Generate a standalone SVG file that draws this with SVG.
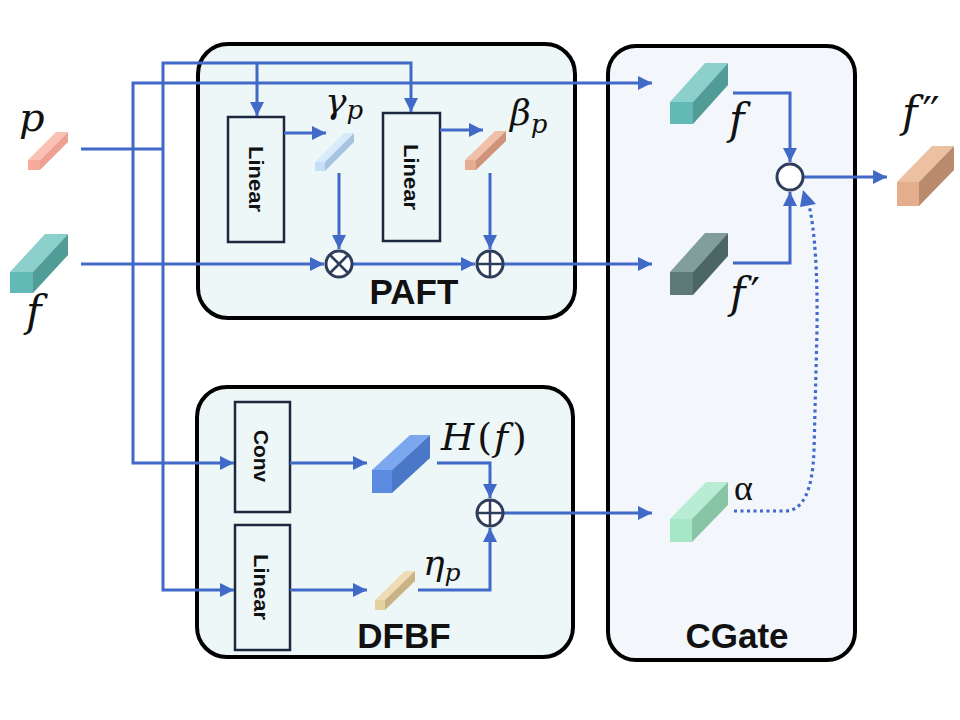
<svg xmlns="http://www.w3.org/2000/svg" width="960" height="720" viewBox="0 0 960 720">
<defs>
<style>
.frame{stroke:#000;stroke-width:4}
.blk{fill:none;stroke:#1c2740;stroke-width:2.5}
.conn{fill:none;stroke:#4169c8;stroke-width:3}
.dot{fill:none;stroke:#4169c8;stroke-width:3.2;stroke-dasharray:3 3.5}
.op{fill:#fff;stroke:#2e3d5c;stroke-width:3}
.opl{stroke:#2e3d5c;stroke-width:2.5}
.btxt{font-family:"Liberation Sans",Arial,sans-serif;font-weight:bold;fill:#111}
.math{font-family:"DejaVu Serif","Liberation Serif",serif;font-style:italic;fill:#111}
.up{font-style:normal}
</style>
<marker id="ah" viewBox="0 0 14 14" refX="14" refY="7" markerWidth="14" markerHeight="14" markerUnits="userSpaceOnUse" orient="auto">
<path d="M0,0 L14,7 L0,14 Z" fill="#4169c8"/>
</marker>
</defs>
<rect width="960" height="720" fill="#fff"/>

<g id="PAFT">
<rect class="frame" x="198" y="44" width="377" height="274" rx="30" fill="#eef7f8"/>
<text class="btxt" x="414" y="304" font-size="35" text-anchor="middle">PAFT</text>
</g>
<g id="DFBF">
<rect class="frame" x="197" y="387" width="376" height="270" rx="30" fill="#eef7f8"/>
<text class="btxt" x="404" y="648" font-size="35" text-anchor="middle">DFBF</text>
</g>
<g id="CGate">
<rect class="frame" x="608" y="46" width="247" height="614" rx="28" fill="#f3f7fc"/>
<text class="btxt" x="737" y="648" font-size="35" text-anchor="middle">CGate</text>
</g>

<g id="linear1">
<rect class="blk" x="228" y="117" width="56" height="125"/>
<text class="btxt" font-size="20" transform="translate(256,179) rotate(90)" text-anchor="middle" dominant-baseline="central" textLength="66" lengthAdjust="spacingAndGlyphs">Linear</text>
</g>
<g id="linear2">
<rect class="blk" x="383" y="113" width="57" height="128"/>
<text class="btxt" font-size="20" transform="translate(411,177) rotate(90)" text-anchor="middle" dominant-baseline="central" textLength="66" lengthAdjust="spacingAndGlyphs">Linear</text>
</g>
<g id="conv">
<rect class="blk" x="235" y="402" width="55" height="110"/>
<text class="btxt" font-size="20" transform="translate(261,456) rotate(90)" text-anchor="middle" dominant-baseline="central" textLength="52" lengthAdjust="spacingAndGlyphs">Conv</text>
</g>
<g id="linear3">
<rect class="blk" x="235" y="525" width="55" height="125"/>
<text class="btxt" font-size="20" transform="translate(261,587) rotate(90)" text-anchor="middle" dominant-baseline="central" textLength="66" lengthAdjust="spacingAndGlyphs">Linear</text>
</g>

<g id="connectors">
<path class="conn" d="M81 149 H163"/>
<path class="conn" d="M81 264 H324" marker-end="url(#ah)"/>
<path class="conn" d="M163 149 V63 H411 V112" marker-end="url(#ah)"/>
<path class="conn" d="M257 63 V116" marker-end="url(#ah)"/>
<path class="conn" d="M163 149 V590 H234" marker-end="url(#ah)"/>
<path class="conn" d="M133 264 V83 H652" marker-end="url(#ah)"/>
<path class="conn" d="M133 264 V463 H234" marker-end="url(#ah)"/>
<path class="conn" d="M284 133 H326" marker-end="url(#ah)"/>
<path class="conn" d="M339 173 V249" marker-end="url(#ah)"/>
<path class="conn" d="M353 264 H475" marker-end="url(#ah)"/>
<path class="conn" d="M440 130 H483" marker-end="url(#ah)"/>
<path class="conn" d="M490 173 V249" marker-end="url(#ah)"/>
<path class="conn" d="M504 264 H652" marker-end="url(#ah)"/>
<path class="conn" d="M733 93 H790 V162" marker-end="url(#ah)"/>
<path class="conn" d="M733 263 H790 V192" marker-end="url(#ah)"/>
<path class="conn" d="M803 177 H887" marker-end="url(#ah)"/>
<path class="conn" d="M290 463 H367" marker-end="url(#ah)"/>
<path class="conn" d="M290 590 H367" marker-end="url(#ah)"/>
<path class="conn" d="M437 463 H490 V498" marker-end="url(#ah)"/>
<path class="conn" d="M418 590 H490 V528" marker-end="url(#ah)"/>
<path class="conn" d="M504 513 H652" marker-end="url(#ah)"/>
<path class="dot" d="M734 511 H785 Q812 511 814 450 L817 330 Q818 245 809 205"/>
<path d="M803 190 L816 204 L800 207 Z" fill="#4169c8"/>
</g>

<g id="op-mul">
<circle class="op" cx="339" cy="264" r="13"/>
<path class="opl" d="M330 255 L348 273 M348 255 L330 273"/>
</g>
<g id="op-add1">
<circle class="op" cx="490" cy="264" r="13"/>
<path class="opl" d="M477 264 H503 M490 251 V277"/>
</g>
<g id="op-add2">
<circle class="op" cx="490" cy="513" r="13"/>
<path class="opl" d="M477 513 H503 M490 500 V526"/>
</g>
<g id="op-gate">
<circle class="op" cx="790" cy="177" r="13"/>
</g>

<g id="cube-p">
<path d="M28 160 L56 132 L68 132 L40 160 Z" fill="#fbc0b4"/>
<path d="M40 160 L68 132 L68 142 L40 170 Z" fill="#eea193"/>
<rect x="28" y="160" width="12" height="10" fill="#f7ab9e"/>
<text class="math" x="19" y="131" font-size="40">p</text>
</g>
<g id="cube-f-in">
<path d="M10 272 L45 234 L68 234 L33 272 Z" fill="#8bd0cb"/>
<path d="M33 272 L68 234 L68 255 L33 293 Z" fill="#529c97"/>
<rect x="10" y="272" width="23" height="21" fill="#63b9b5"/>
<text class="math" x="26" y="326" font-size="42">f</text>
</g>
<g id="cube-gamma">
<path d="M315 162 L344 133 L354 133 L325 162 Z" fill="#d8ebfb"/>
<path d="M325 162 L354 133 L354 142 L325 171 Z" fill="#a6c3e2"/>
<rect x="315" y="162" width="10" height="9" fill="#c4dff7"/>
<text class="math" x="325" y="113" font-size="36">γ<tspan font-size="26" dy="6">p</tspan></text>
</g>
<g id="cube-beta">
<path d="M465 160 L495 131 L506 131 L476 160 Z" fill="#f0c0a8"/>
<path d="M476 160 L506 131 L506 141 L476 170 Z" fill="#cf937a"/>
<rect x="465" y="160" width="11" height="10" fill="#e6ac92"/>
<text class="math" x="510" y="125" font-size="36">β<tspan font-size="26" dy="8">p</tspan></text>
</g>
<g id="cube-f">
<path d="M670 102 L705 63 L728 63 L693 102 Z" fill="#8bd0cb"/>
<path d="M693 102 L728 63 L728 85 L693 124 Z" fill="#529c97"/>
<rect x="670" y="102" width="23" height="22" fill="#63b9b5"/>
<text class="math" x="729" y="134" font-size="42">f</text>
</g>
<g id="cube-fp">
<path d="M670 272 L705 233 L728 233 L693 272 Z" fill="#819e9c"/>
<path d="M693 272 L728 233 L728 256 L693 295 Z" fill="#4b6664"/>
<rect x="670" y="272" width="23" height="23" fill="#5d7a78"/>
<text class="math" x="730" y="308" font-size="42">f<tspan class="up" dx="5">′</tspan></text>
</g>
<g id="cube-fpp">
<path d="M897 182 L932 146 L954 146 L919 182 Z" fill="#ecc0a2"/>
<path d="M919 182 L954 146 L954 170 L919 206 Z" fill="#b98a6c"/>
<rect x="897" y="182" width="22" height="24" fill="#e4ae8c"/>
<text class="math" x="902" y="127" font-size="42">f<tspan class="up" dx="5" letter-spacing="-2">′′</tspan></text>
</g>
<g id="cube-H">
<path d="M372 470 L410 435 L430 435 L392 470 Z" fill="#7ca6ee"/>
<path d="M392 470 L430 435 L430 458 L392 493 Z" fill="#4b77c9"/>
<rect x="372" y="470" width="20" height="23" fill="#5b8ce2"/>
<text class="math" x="441" y="450" font-size="38">H<tspan class="up" dx="3">(</tspan><tspan dx="2">f</tspan><tspan class="up" dx="4">)</tspan></text>
</g>
<g id="cube-eta">
<path d="M375 600 L405 571 L415 571 L385 600 Z" fill="#efdcb4"/>
<path d="M385 600 L415 571 L415 581 L385 610 Z" fill="#c9b386"/>
<rect x="375" y="600" width="10" height="10" fill="#e6d1a1"/>
<text class="math" x="423" y="575" font-size="36">η<tspan font-size="25" dy="6">p</tspan></text>
</g>
<g id="cube-alpha">
<path d="M670 519 L706 482 L728 482 L692 519 Z" fill="#b8edd4"/>
<path d="M692 519 L728 482 L728 505 L692 542 Z" fill="#88c4a6"/>
<rect x="670" y="519" width="22" height="23" fill="#a8e6c8"/>
<text x="734" y="500" font-size="36" font-family="Liberation Serif,DejaVu Serif,serif" fill="#111">α</text>
</g>
</svg>
